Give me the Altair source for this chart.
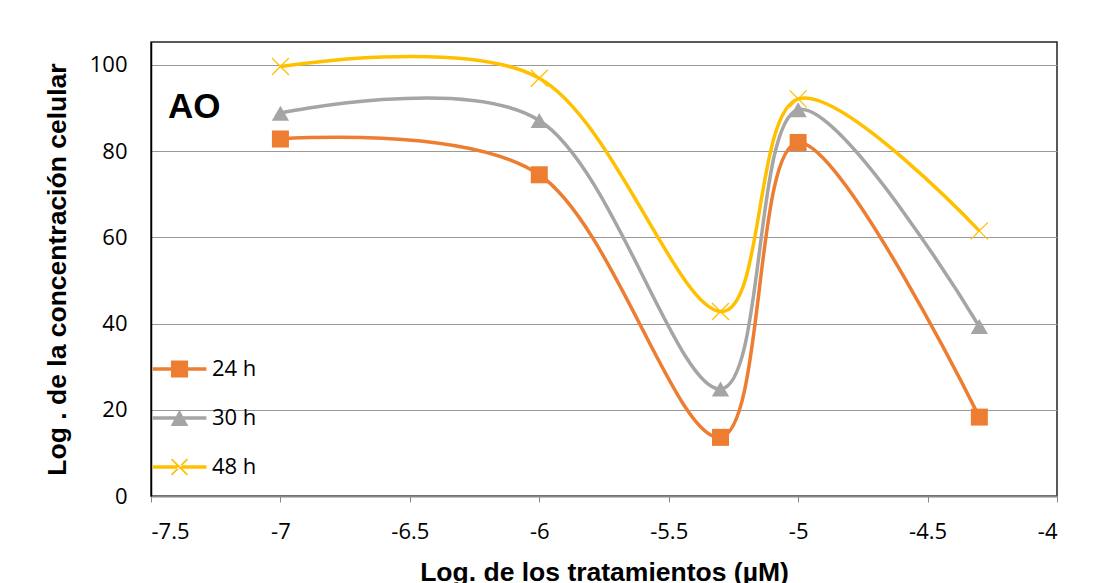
import altair as alt
import pandas as pd

# ---- data ----
x_vals = [-7, -6, -5.3, -5, -4.3]
h24 = [82.8, 74.5, 13.6, 82.0, 18.3]
h30 = [88.8, 87.1, 24.8, 89.6, 39.3]
h48 = [99.6, 96.9, 42.8, 92.1, 61.5]
series_names = ["24 h", "30 h", "48 h"]
series_colors = ["#ED7D31", "#A5A5A5", "#FFC000"]
x_ticks = [-7.5, -7, -6.5, -6, -5.5, -5, -4.5, -4]
y_ticks = [0, 20, 40, 60, 80, 100]
ann_x = [-7.434]
ann_y = [87.7]
ann_text = ["AO"]

rows = []
for name, vals in zip(series_names, [h24, h30, h48]):
    for xv, yv in zip(x_vals, vals):
        rows.append({"x": xv, "y": yv, "series": name})
df = pd.DataFrame(rows)
ann_df = pd.DataFrame({"x": ann_x, "y": ann_y, "t": ann_text})

# legend symbols: line with marker (custom paths, unit coords)
line_p = "M-1.1,-0.07H1.1V0.07H-1.1Z"
sq_p = "M-0.35,-0.35H0.35V0.35H-0.35Z"
tri_p = "M0,-0.34L0.36,0.33H-0.36Z"
x_leg_p = ("M-0.35,-0.30L-0.30,-0.35L0.35,0.30L0.30,0.35Z"
           "M0.35,-0.30L0.30,-0.35L-0.35,0.30L-0.30,0.35Z")
legend_paths = [line_p + sq_p, line_p + tri_p, line_p + x_leg_p]
x_marker = "M-1,-1L1,1M-1,1L1,-1"

color_scale = alt.Scale(domain=series_names, range=series_colors)

x_enc = alt.X(
    "x:Q",
    scale=alt.Scale(domain=[-7.5, -4], nice=False, zero=False),
    axis=alt.Axis(
        values=x_ticks,
        labelExpr="'' + datum.value",
        title="Log. de los tratamientos (µM)",
        titleFont="Liberation Sans", titleFontSize=26.5, titleFontWeight="bold",
        titleColor="#000", titlePadding=17,
        labelFont="Open Sans", labelFontSize=22, labelColor="#000",
        labelPadding=19, ticks=True, tickSize=6, tickColor="#888",
        domainColor="#888", domainWidth=2, grid=False,
    ),
)
y_enc = alt.Y(
    "y:Q",
    scale=alt.Scale(domain=[0, 105.3], nice=False),
    axis=alt.Axis(
        values=y_ticks,
        title="Log . de la concentración celular",
        titleFont="Liberation Sans", titleFontSize=26.5, titleFontWeight="bold",
        titleColor="#000", titlePadding=18,
        labelFont="Open Sans", labelFontSize=22, labelColor="#000",
        labelPadding=24, ticks=False,
        domainColor="#000", domainWidth=1.5,
        grid=True, gridColor="#999", gridWidth=1,
    ),
)

leg = alt.Legend(
    orient="none", legendX=4, legendY=302.5, title=None,
    symbolSize=2401, symbolStrokeWidth=0, symbolOpacity=1,
    labelFont="Open Sans", labelFontSize=22, labelColor="#000",
    labelOffset=8, rowPadding=13, padding=0,
)

base = alt.Chart(df)

legend_layer = base.transform_filter("datum.y < -1000").mark_point(
    filled=True, opacity=1, size=2401, strokeWidth=0
).encode(
    x=x_enc, y=y_enc,
    color=alt.Color("series:N", scale=color_scale, legend=leg),
    shape=alt.Shape("series:N", scale=alt.Scale(domain=series_names, range=legend_paths), legend=leg),
)

lines = base.mark_line(interpolate="cardinal", strokeWidth=3.5).encode(
    x=x_enc, y=y_enc,
    color=alt.Color("series:N", scale=color_scale, legend=None),
)

pts24 = base.transform_filter("datum.series == '24 h'").mark_point(
    shape="square", filled=True, size=289, opacity=1
).encode(x=x_enc, y=y_enc, color=alt.Color("series:N", scale=color_scale, legend=None))

pts30 = base.transform_filter("datum.series == '30 h'").mark_point(
    shape="triangle-up", filled=True, size=300, opacity=1
).encode(x=x_enc, y=y_enc, color=alt.Color("series:N", scale=color_scale, legend=None))

pts48 = base.transform_filter("datum.series == '48 h'").mark_point(
    shape=x_marker, filled=False, size=289, opacity=1, strokeWidth=1.3
).encode(x=x_enc, y=y_enc, color=alt.Color("series:N", scale=color_scale, legend=None))

ann = alt.Chart(ann_df).mark_text(
    font="Liberation Sans", fontSize=35, fontWeight="bold", color="#000",
    align="left", baseline="alphabetic"
).encode(x="x:Q", y="y:Q", text="t:N")

chart = alt.layer(legend_layer, lines, pts24, pts30, pts48, ann).properties(
    width=906, height=454,
    autosize=alt.AutoSizeParams(type="none"),
    padding={"left": 151, "top": 42, "right": 53, "bottom": 87},
    background="white",
).configure_view(stroke="#222", strokeWidth=1.5)

chart.save("out.html", embed_options={"renderer": "svg", "actions": False})
